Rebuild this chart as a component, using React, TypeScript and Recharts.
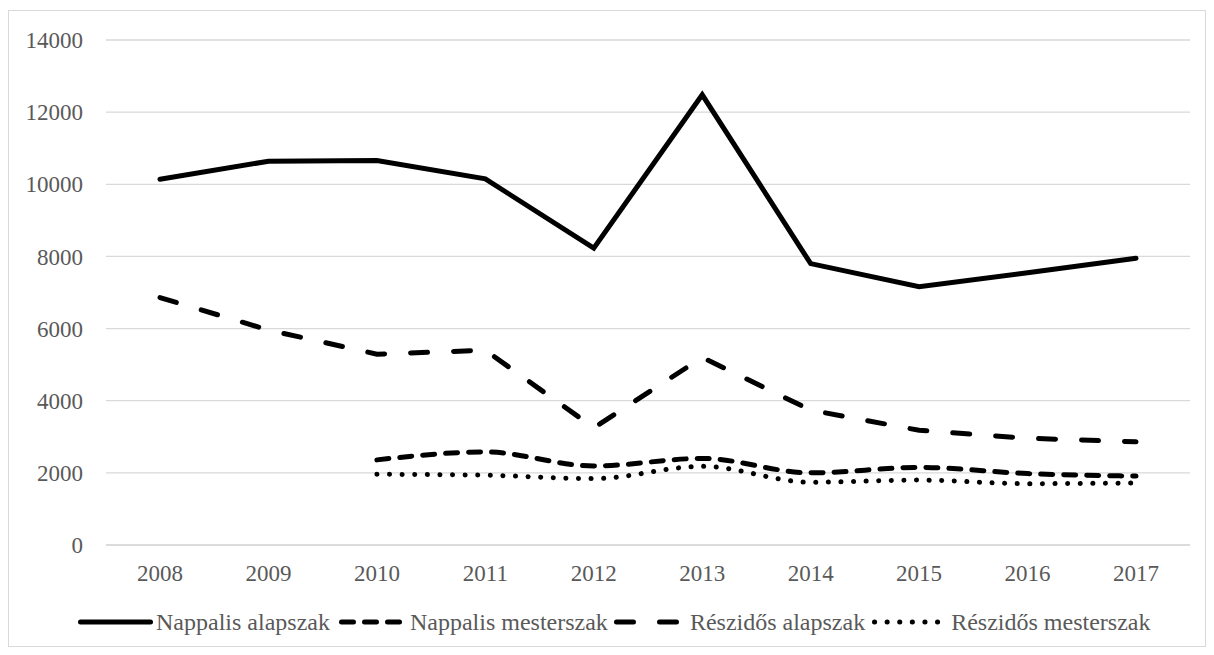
import { LineChart, Line, XAxis, YAxis, CartesianGrid, Legend } from 'recharts'

const years = ['2008', '2009', '2010', '2011', '2012', '2013', '2014', '2015', '2016', '2017']
const nappalisAlap = [10140, 10640, 10660, 10150, 8230, 12480, 7800, 7160, 7550, 7950]
const nappalisMester = [null, null, 2360, 2580, 2190, 2400, 2000, 2150, 1980, 1910]
const reszidosAlap = [6860, 5960, 5290, 5400, 3250, 5200, 3740, 3180, 2960, 2860]
const reszidosMester = [null, null, 1960, 1935, 1840, 2180, 1740, 1800, 1700, 1720]
const yTicks = [0, 2000, 4000, 6000, 8000, 10000, 12000, 14000]

const data = years.map((y, i) => ({
  year: y,
  na: nappalisAlap[i],
  nm: nappalisMester[i],
  ra: reszidosAlap[i],
  rm: reszidosMester[i],
}))

const font = '"Liberation Serif", "Times New Roman", serif'
const textColor = '#595959'

// legend sample sizes: line length, box width, gap before text, gap before item
const series = [
  { key: 'na', name: 'Nappalis alapszak', dash: undefined as string | undefined, type: 'linear' as const, len: 70, w: 75, tg: 3, ig: 0 },
  { key: 'nm', name: 'Nappalis mesterszak', dash: '12 11', type: 'monotone' as const, len: 58, w: 66, tg: 5, ig: 9 },
  { key: 'ra', name: 'Részidős alapszak', dash: '17 26', type: 'linear' as const, len: 60, w: 66, tg: 10, ig: 6 },
  { key: 'rm', name: 'Részidős mesterszak', dash: '0.1 12.5', type: 'monotone' as const, len: 64, w: 70, tg: 9, ig: 7 },
]

function LegendBox() {
  return (
    <div style={{ display: 'flex', alignItems: 'center', paddingLeft: 69, fontFamily: font, fontSize: 24, color: textColor, height: 28, whiteSpace: 'nowrap' }}>
      {series.map((s) => (
        <div key={s.key} style={{ display: 'flex', alignItems: 'center', marginLeft: s.ig }}>
          <svg width={s.w} height={10}>
            <line x1={2.5} y1={5} x2={2.5 + s.len} y2={5} stroke="#000" strokeWidth={5} strokeLinecap="round" strokeDasharray={s.dash} />
          </svg>
          <span style={{ marginLeft: s.tg }}>{s.name}</span>
        </div>
      ))}
    </div>
  )
}

export default function App() {
  return (
    <div style={{ width: 1196, height: 635, border: '1px solid #d9d9d9', marginTop: 2, background: '#fff' }}>
      <LineChart width={1196} height={635} data={data} margin={{ top: 29, right: 15, left: 0, bottom: 33 }}>
        <CartesianGrid vertical={false} stroke="#d9d9d9" strokeWidth={1.3} />
        <XAxis
          dataKey="year"
          padding={{ left: 54, right: 54 }}
          axisLine={{ stroke: '#d9d9d9', strokeWidth: 1.3 }}
          tickLine={false}
          tickSize={0}
          tickMargin={20}
          height={40}
          tick={{ fill: textColor, fontFamily: font, fontSize: 23 }}
        />
        <YAxis
          domain={[0, 14000]}
          ticks={yTicks}
          axisLine={false}
          tickLine={false}
          tickSize={0}
          tickMargin={23}
          width={97}
          tick={{ fill: textColor, fontFamily: font, fontSize: 23 }}
        />
        <Legend content={<LegendBox />} wrapperStyle={{ top: 597, left: 0, width: 1196 }} />
        {series.map((s) => (
          <Line
            key={s.key}
            type={s.type}
            dataKey={s.key}
            name={s.name}
            stroke="#000"
            strokeWidth={5}
            strokeDasharray={s.dash}
            strokeLinecap="round"
            dot={false}
            activeDot={false}
            isAnimationActive={false}
          />
        ))}
      </LineChart>
    </div>
  )
}
